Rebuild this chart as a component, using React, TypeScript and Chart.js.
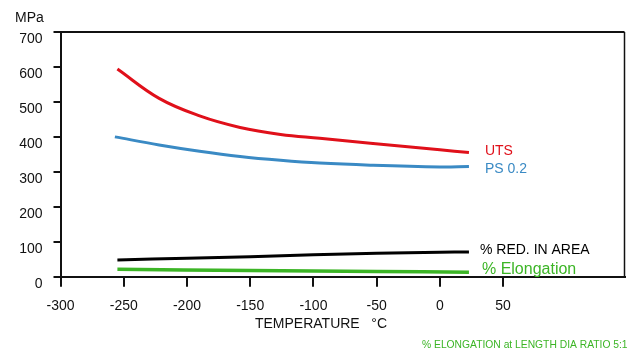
import React, { useEffect, useRef } from "react";
import { Chart, registerables } from "chart.js";

Chart.register(...registerables);

const utsX = [-255, -222, -190, -158, -126, -95, -55, 0, 23];
const utsY = [594, 510, 460, 427, 407, 396, 382, 363, 355];

const psX = [-257, -222, -190, -158, -126, -95, -55, 0, 23];
const psY = [400, 377, 359, 344, 333, 325, 319, 314, 315];

const redX = [-255, -200, -150, -100, -50, 0, 23];
const redY = [48, 53, 57, 63, 67, 70, 71];

const elongX = [-255, -150, -50, 23];
const elongY = [21, 18, 15, 13];

const seriesLabels = ["UTS", "PS 0.2", "% RED. IN AREA", "% Elongation"];
const seriesColors = ["#e0101a", "#3a8ac4", "#000000", "#3cb526"];

const yAxisTitle = "MPa";
const xAxisTitle = "TEMPERATURE   \u00B0C";
const footnote = "% ELONGATION at LENGTH DIA RATIO 5:1";

const FONT = "'Liberation Sans', Arial, sans-serif";

const toPts = (xs: number[], ys: number[]) => xs.map((x, i) => ({ x, y: ys[i] }));

const labelStyle = [
  { dx: 16, dy: -1, size: 14 },
  { dx: 16, dy: 3, size: 14 },
  { dx: 11, dy: -2, size: 14 },
  { dx: 13, dy: -3, size: 16 },
];

const decorPlugin = {
  id: "decor",
  afterDraw(chart: any) {
    const ctx = chart.ctx;
    const a = chart.chartArea;
    ctx.save();
    ctx.strokeStyle = "#111";
    ctx.lineWidth = 2;
    ctx.beginPath();
    ctx.moveTo(a.left, a.top);
    ctx.lineTo(a.right, a.top);
    ctx.stroke();
    ctx.lineWidth = 1.5;
    ctx.beginPath();
    ctx.moveTo(a.right, a.top);
    ctx.lineTo(a.right, a.bottom);
    ctx.stroke();

    chart.data.datasets.forEach((ds: any, i: number) => {
      const meta = chart.getDatasetMeta(i);
      const last = meta.data[meta.data.length - 1];
      const st = labelStyle[i];
      ctx.font = `${st.size}px ${FONT}`;
      ctx.fillStyle = seriesColors[i];
      ctx.textAlign = "left";
      ctx.textBaseline = "middle";
      ctx.fillText(seriesLabels[i], last.x + st.dx, last.y + st.dy);
    });

    ctx.fillStyle = "#111";
    ctx.font = `14px ${FONT}`;
    ctx.textAlign = "left";
    ctx.textBaseline = "middle";
    ctx.fillText(yAxisTitle, 15, 18);
    ctx.textAlign = "center";
    ctx.fillText(xAxisTitle, 321, 324);

    ctx.fillStyle = "#3cb526";
    ctx.font = `10.3px ${FONT}`;
    ctx.textAlign = "left";
    ctx.fillText(footnote, 422, 345);
    ctx.restore();
  },
};

export default function App() {
  const ref = useRef<HTMLCanvasElement>(null);
  useEffect(() => {
    const canvas = ref.current!;
    const sets = [
      toPts(utsX, utsY),
      toPts(psX, psY),
      toPts(redX, redY),
      toPts(elongX, elongY),
    ];
    const widths = [3, 3, 3, 3.5];
    const chart = new Chart(canvas, {
      type: "line",
      data: {
        datasets: sets.map((d, i) => ({
          label: seriesLabels[i],
          data: d,
          borderColor: seriesColors[i],
          backgroundColor: seriesColors[i],
          borderWidth: widths[i],
          pointRadius: 0,
          tension: 0.4,
          fill: false,
          borderCapStyle: "butt",
        })),
      },
      options: {
        responsive: false,
        animation: false,
        layout: { padding: { left: 0, top: 32, right: 14.5, bottom: 0 } },
        plugins: { legend: { display: false }, tooltip: { enabled: false } },
        scales: {
          x: {
            type: "linear",
            min: -300,
            max: 146,
            afterBuildTicks: (s: any) => {
              s.ticks = [-300, -250, -200, -150, -100, -50, 0, 50].map((v) => ({ value: v }));
            },
            afterFit: (s: any) => {
              s.height = 80.3;
            },
            ticks: {
              color: "#111",
              font: { family: FONT, size: 14 },
              padding: 11,
              maxRotation: 0,
              autoSkip: false,
            },
            grid: {
              drawOnChartArea: false,
              drawTicks: true,
              tickLength: 10,
              lineWidth: 2,
              color: "#111",
            },
            border: { display: true, color: "#111", width: 2 },
          },
          y: {
            type: "linear",
            min: 0,
            max: 700,
            afterFit: (s: any) => {
              s.width = 60.5;
            },
            ticks: {
              stepSize: 100,
              color: "#111",
              font: { family: FONT, size: 14 },
              padding: 11,
              labelOffset: 7,
            },
            grid: {
              drawOnChartArea: false,
              drawTicks: true,
              tickLength: 7,
              lineWidth: 2,
              color: "#111",
            },
            border: { display: true, color: "#111", width: 2 },
          },
        },
      },
      plugins: [decorPlugin],
    } as any);
    return () => chart.destroy();
  }, []);
  return (
    <div style={{ position: "absolute", left: 0, top: 0, width: 639, height: 357, background: "#fff" }}>
      <canvas ref={ref} width={639} height={357} style={{ display: "block", width: 639, height: 357 }} />
    </div>
  );
}
